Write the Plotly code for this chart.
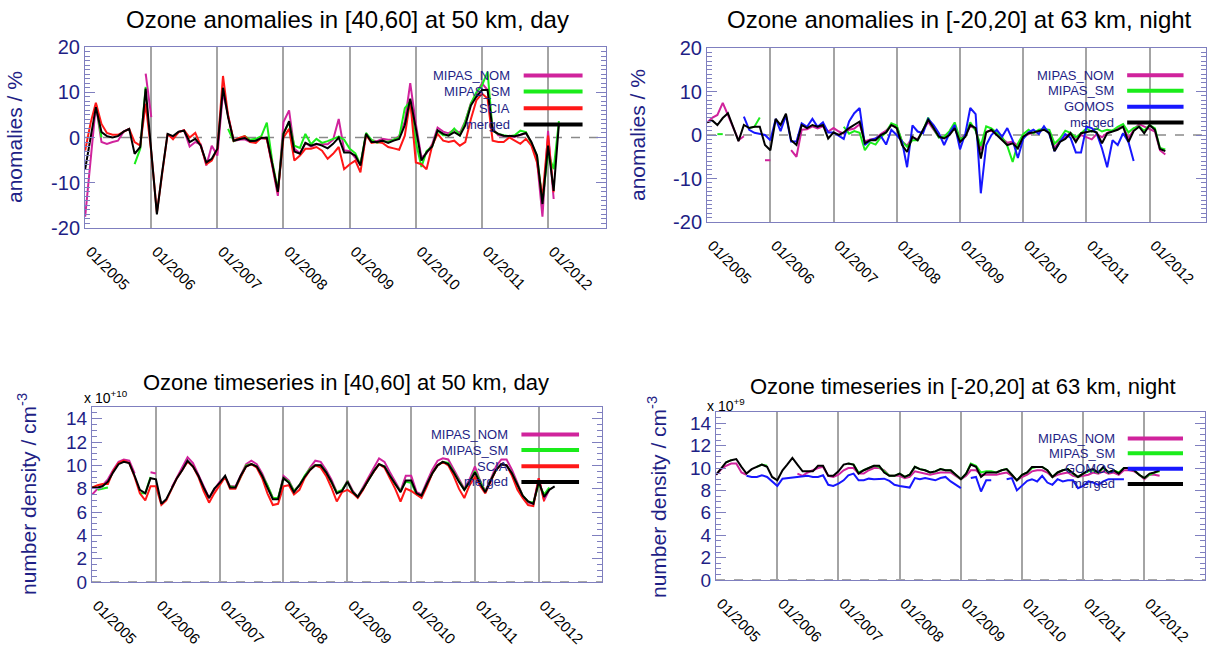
import pandas as pd
import plotly.graph_objects as go

N = None

# Monthly time axis, Jan 2005 - Apr 2012
months = pd.date_range("2005-01-01", periods=88, freq="MS")

# ---- Ozone anomalies [%], 40-60 N, 50 km, day ----
anom_day_nom = [
    -17.5, -5.2, 7.1, -1.0, -1.4, -1.0, -0.7, 1.3, 1.9, N, N, 14.1,
    4.5, N, N, 0.6, 0.0, 1.2, 1.6, -2.0, -1.0, -1.5, -6.2, -1.8,
    -4.0, 10.0, 4.5, -0.8, -0.5, -0.4, -1.0, -0.8, -0.2, -0.3, -6.5, -12.9,
    3.4, 6.0, -2.5, -3.5, -1.2, -2.0, -1.5, -1.5, -1.5, -0.5, 4.1, -2.8,
    -3.0, -4.5, -6.0, 0.5, -0.6, -0.8, -0.3, -0.5, -0.5, 0.3, 3.5, 12.0,
    3.0, -4.5, -3.5, -1.5, 2.2, 1.3, 0.9, 1.8, 1.0, 3.6, 7.6, 9.5,
    12.0, 10.5, 2.0, 0.5, 0.3, 0.2, 0.1, 0.5, 1.0, -1.2, -5.0, -17.5,
    1.5, -13.6, N, N,
]
anom_day_sm = [
    N, N, 7.5, 0.0, N, N, N, N, N, -5.9, -2.5, 11.2,
    N, N, N, N, N, N, N, N, N, N, N, N,
    N, N, 1.9, -0.8, -0.2, 0.3, -0.5, -0.3, 0.3, 3.3, -5.5, -11.5,
    1.0, 3.3, -1.8, -2.3, 0.8, -1.5, -0.3, -1.2, -0.8, -0.3, 0.2, -0.5,
    -2.5, -3.5, -6.0, 1.0, -0.5, -1.2, -0.8, -1.0, -0.5, 0.0, 6.5, 8.0,
    -1.0, -6.5, -3.0, -2.0, 1.5, 0.5, 0.5, 2.0, 0.5, 3.5, 7.5, 10.0,
    11.5, 14.5, 1.5, 0.8, 0.5, 0.3, 0.5, 1.5, 1.2, -1.2, -4.0, -14.0,
    -3.5, -7.0, 3.6, N,
]
anom_day_scia = [
    -2.9, 3.4, 7.7, 3.0, 1.0, 0.6, 0.6, 1.3, 1.9, -1.0, -1.8, 7.5,
    -3.3, -16.6, -8.0, 0.8, -0.4, 1.2, 1.6, 0.0, 1.0, -1.8, -5.9, -5.1,
    -2.5, 13.6, 4.9, -0.7, -0.1, 0.3, -1.0, -1.2, 0.0, -0.3, -6.2, -12.1,
    0.0, 1.9, -5.1, -4.0, -2.5, -2.5, -2.1, -2.9, -4.7, -3.6, -2.1, -7.0,
    -5.9, -5.1, -7.7, 0.6, -1.2, -1.0, -1.2, -2.1, -2.4, -2.7, 0.4, 8.2,
    -5.5, -5.9, -7.0, -1.8, 0.8, -0.7, -1.0, -0.7, -1.8, -1.0, 4.1, 8.2,
    9.7, 8.6, -0.7, -1.0, -1.0, 0.0, -0.7, -1.4, -0.3, -1.8, -5.5, -13.3,
    0.4, -12.1, N, N,
]
anom_day_merged = [
    -7.0, 0.0, 6.7, 1.2, 0.3, 0.0, 0.3, 1.3, 1.9, -3.6, -2.1, 10.8,
    -3.0, -17.0, -8.0, 0.8, 0.3, 1.3, 1.5, -1.0, -0.3, -1.8, -5.5, -4.7,
    -2.5, 11.0, 4.5, -0.7, -0.4, -0.1, -0.8, -0.7, -0.1, 0.0, -6.0, -12.0,
    0.8, 3.6, -3.1, -3.6, -1.2, -1.8, -1.4, -1.8, -2.4, -1.4, 0.0, -3.3,
    -3.3, -4.0, -6.2, 0.8, -1.0, -1.0, -0.7, -1.2, -0.7, -0.3, 2.7, 8.6,
    2.0, -5.1, -3.3, -2.0, 1.6, 0.8, 0.4, 1.2, 0.4, 2.7, 7.1, 9.0,
    10.5, 10.5, 1.5, 0.8, 0.4, 0.4, 0.3, 0.6, 1.0, -1.0, -4.0, -14.7,
    -1.8, -11.8, 3.0, N,
]

# ---- Ozone anomalies [%], 20 S - 20 N, 63 km, night ----
anom_night_nom = [
    2.9, 4.0, 4.6, 7.4, 4.6, 1.5, -1.2, -0.3, N, N, N, -5.8,
    -5.8, N, N, N, -3.5, -5.0, 1.2, 1.3, 2.0, 1.5, 2.0, 0.8,
    1.6, 0.8, 0.3, 1.2, 1.5, 2.5, -1.5, -1.0, -0.8, 0.2, 1.0, 2.3,
    2.0, -1.5, -2.5, -0.5, -1.0, 1.0, 3.0, 1.2, -0.5, -0.5, 0.5, 1.5,
    -0.8, 0.0, 2.0, 1.5, -3.5, 0.8, 1.0, 0.2, -0.8, -1.8, -1.5, -2.5,
    -0.5, 0.2, 0.5, 0.8, 1.5, 0.5, -3.0, -1.2, -0.6, 0.5, -1.2, 0.0,
    -0.5, -1.0, 0.2, -0.5, 0.5, 1.0, 1.5, 2.0, -0.8, 1.2, 2.5, 2.0,
    1.5, 0.8, -3.5, -4.5,
]
anom_night_sm = [
    N, N, 0.2, 0.2, N, N, N, N, 1.6, 1.9, 4.0, N,
    N, N, N, N, N, N, N, N, N, N, N, N,
    N, N, 1.9, 0.3, 0.9, 0.5, -3.5, -1.7, -2.2, -0.5, 0.6, 2.7,
    2.2, -1.5, -2.7, -1.2, -1.2, 1.0, 4.0, 1.5, -0.6, -0.4, 0.9, 2.9,
    -1.0, -0.2, 2.9, 1.0, -2.5, 2.0, 1.5, 0.5, -0.5, -2.5, -6.2, -2.0,
    0.2, 1.2, 0.4, 1.2, 1.4, 1.2, -2.0, -0.8, 1.0, 0.5, -0.5, 0.4,
    1.5, 0.8, 1.5, 0.8, 1.2, 1.0, 1.9, 2.5, 0.6, 1.6, 2.0, 1.0,
    2.3, 1.5, -3.0, -3.3,
]
anom_night_gomos = [
    N, N, N, N, N, N, N, 4.2, 1.2, 0.5, 0.3, 0.0,
    -1.2, 3.7, 0.9, 4.5, -1.5, -1.5, 2.7, 1.9, 3.7, 1.9, 2.9, 0.6,
    0.6, -0.2, -0.9, 3.1, 5.0, 6.2, -2.3, -1.2, -0.8, -0.2, -2.2, 1.2,
    0.0, -1.5, -7.4, 2.2, 0.8, 0.4, 3.7, 2.3, 0.4, -2.3, 0.4, 2.3,
    -3.3, 0.4, 6.2, 4.8, -13.4, -2.3, 0.0, 1.2, -0.4, 1.6, -1.2, -5.3,
    -0.9, 0.6, 1.2, 0.2, 2.0, 0.2, -3.7, -1.6, 0.2, -0.6, -4.0, -4.0,
    1.9, 1.6, 0.4, -3.1, -7.4, -1.2, -2.3, 0.4, -1.6, -6.0, N, N,
    N, N, N, N,
]
anom_night_merged = [
    2.9, 3.3, 2.3, 3.9, 5.0, 1.6, -1.4, 2.3, 1.6, 1.9, 1.9, -2.3,
    -3.5, 3.7, 2.3, 4.9, -1.2, -2.3, 2.3, 1.6, 2.3, 1.9, 2.3, -0.8,
    0.6, 0.0, 0.6, 1.6, 2.3, 3.1, -1.9, -1.2, -1.2, 0.0, 0.6, 2.3,
    1.6, -2.3, -3.9, -0.4, -1.2, 1.2, 3.5, 1.6, -0.4, -0.8, 0.0, 1.6,
    -1.6, -0.4, 2.3, 1.6, -5.4, 0.6, 1.2, 0.0, -1.2, -2.3, -1.9, -3.1,
    -0.4, 0.4, 0.6, 0.9, 1.2, 0.4, -3.7, -1.6, -0.9, 0.4, -1.6, 0.4,
    0.6, 0.9, 0.6, -1.9, 0.4, 0.8, 1.2, 1.9, -1.6, 0.9, 1.9, 0.4,
    2.3, 1.2, -3.2, -3.7,
]

# ---- Number density [1e10 cm^-3], 40-60 N, 50 km, day ----
ts_day_nom = [
    7.5, 8.0, 8.3, 8.8, 9.6, 10.3, 10.5, 10.4, 9.3, N, N, 9.4,
    9.3, N, N, 8.1, 9.0, 9.8, 10.7, 10.2, 9.2, 8.2, 7.2, 7.9,
    8.6, 9.0, 8.2, 8.2, 9.2, 10.1, 10.4, 10.1, 9.3, 8.2, 7.2, 7.1,
    9.1, 8.7, 7.8, 8.3, 9.1, 9.8, 10.4, 10.3, 9.6, 8.8, 7.7, 7.8,
    8.7, 7.8, 7.3, 8.1, 9.0, 9.8, 10.6, 10.3, 9.4, 8.6, 7.8, 9.1,
    9.1, 7.7, 7.5, 8.6, 9.6, 10.4, 10.6, 10.5, 9.7, 8.8, 8.0, 8.8,
    9.9, 8.6, 7.8, 8.8, 9.9, 10.5, 10.5, 9.6, 8.5, 7.4, 6.8, 6.7,
    8.9, 7.0, 7.9, N,
]
ts_day_sm = [
    N, 7.9, 8.0, 8.1, N, N, N, N, N, 7.6, 7.6, 9.0,
    N, N, N, N, N, N, N, N, N, N, N, N,
    N, N, 8.2, 8.1, 9.0, 10.0, 10.1, 9.9, 9.1, 8.3, 7.2, 7.2,
    8.9, 8.6, 7.8, 8.3, 9.1, 9.7, 10.0, 10.0, 9.4, 8.6, 7.7, 7.9,
    8.6, 7.7, 7.3, 8.0, 8.8, 9.5, 10.1, 9.9, 9.1, 8.4, 7.8, 8.6,
    8.5, 7.5, 7.4, 8.4, 9.3, 10.0, 10.3, 10.2, 9.4, 8.6, 7.9, 8.6,
    9.5, 8.6, 7.7, 8.7, 9.6, 10.1, 10.0, 9.3, 8.3, 7.4, 6.9, 6.8,
    8.4, 7.5, 8.1, N,
]
ts_day_scia = [
    8.1, 8.3, 8.4, 8.4, 9.5, 10.2, 10.4, 10.2, 9.0, 7.6, 7.0, 8.2,
    8.2, 6.6, 7.0, 8.0, 8.9, 9.6, 10.3, 9.9, 9.0, 7.8, 6.8, 7.6,
    8.3, 9.0, 8.0, 8.0, 9.0, 9.9, 10.1, 9.8, 8.9, 7.6, 6.6, 6.7,
    8.2, 8.3, 7.5, 7.9, 8.9, 9.6, 10.0, 9.8, 9.1, 8.1, 6.9, 7.7,
    7.9, 7.6, 7.2, 7.9, 8.8, 9.5, 10.1, 9.8, 8.9, 8.0, 6.9, 8.0,
    7.8, 7.5, 7.2, 8.2, 9.3, 10.0, 10.3, 10.0, 9.1, 8.0, 7.2, 8.3,
    9.0, 8.2, 7.6, 8.6, 9.6, 10.1, 10.0, 9.1, 7.9, 7.2, 6.6, 6.5,
    8.9, 6.9, N, N,
]
ts_day_merged = [
    8.1, 8.1, 8.2, 8.6, 9.4, 10.1, 10.3, 10.2, 9.1, 7.9, 7.6, 8.9,
    8.8, 6.7, 7.1, 8.0, 8.9, 9.6, 10.4, 9.9, 9.1, 8.1, 7.2, 8.0,
    8.5, 9.1, 8.1, 8.1, 9.1, 9.9, 10.1, 9.9, 9.1, 8.1, 7.1, 7.1,
    8.9, 8.5, 7.7, 8.3, 9.0, 9.6, 10.0, 10.0, 9.4, 8.6, 7.6, 7.8,
    8.6, 7.7, 7.3, 8.0, 8.8, 9.5, 10.1, 9.9, 9.1, 8.4, 7.7, 8.7,
    8.7, 7.6, 7.4, 8.4, 9.3, 10.0, 10.3, 10.1, 9.4, 8.6, 7.9, 8.6,
    9.4, 8.4, 7.7, 8.7, 9.6, 10.1, 10.0, 9.3, 8.3, 7.4, 6.9, 6.7,
    8.6, 7.3, 7.9, 8.2,
]

# ---- Number density [1e9 cm^-3], 20 S - 20 N, 63 km, night ----
ts_night_nom = [
    9.4, 9.9, 10.2, 10.4, 10.4, 9.6, 9.4, N, N, N, N, N,
    N, N, N, N, 9.5, 9.3, 9.6, 9.8, 10.0, 10.1, 9.3, 9.2,
    9.4, 9.8, 10.0, 10.0, 9.5, 9.5, 9.8, 10.0, 10.0, 9.8, 9.3, 9.3,
    9.3, 9.1, 9.2, 9.7, 9.6, 9.5, 9.4, 9.5, 9.6, 9.6, 9.6, 9.3,
    9.0, 9.3, 9.8, 9.8, 9.4, 9.4, 9.4, 9.4, 9.5, 9.6, 9.3, 8.9,
    9.2, 9.4, 9.7, 9.8, 9.8, 9.6, 9.2, 9.4, 9.5, 9.6, 9.3, 9.2,
    9.3, 9.4, 9.6, 9.5, 9.7, 9.5, 9.6, 9.4, 9.8, 9.8, 9.7, 9.4,
    9.0, 9.4, 9.4, 9.3,
]
ts_night_sm = [
    N, N, 10.5, 10.7, N, N, N, N, 10.1, 10.3, 10.2, N,
    N, N, N, N, N, N, N, N, N, N, N, N,
    N, N, 10.4, 10.3, 9.6, 9.8, 10.0, 10.2, 10.1, 9.7, 9.3, 9.3,
    9.5, 9.2, 9.4, 10.1, 9.9, 9.8, 9.6, 9.7, 9.9, 9.8, 9.8, 9.4,
    9.0, 9.5, 10.4, 10.2, 9.6, 9.7, 9.7, 9.6, 9.8, 9.9, 9.4, 8.9,
    9.4, 9.6, 10.0, 10.1, 10.1, 9.8, 9.2, 9.6, 9.8, 9.9, 9.5, 9.2,
    9.5, 9.7, 9.8, 9.6, 10.0, 9.6, 9.8, 9.6, 10.0, 10.0, 9.8, 9.4,
    9.1, 9.4, 9.6, 9.7,
]
ts_night_gomos = [
    N, N, N, N, N, N, 9.3, 9.2, 9.2, 9.35, 9.2, 8.8,
    8.4, 9.05, 9.1, 9.1, 9.2, 9.2, 9.3, 9.2, 9.2, 9.35, 8.5, 8.4,
    8.6, 8.9, 9.35, 9.5, 8.9, 8.9, 9.05, 9.0, 9.05, 9.05, 8.85, 8.5,
    8.4, 8.3, 8.25, 9.1, 9.0, 9.1, 9.0, 8.9, 9.1, 9.2, 8.8, 8.5,
    8.2, N, 9.1, 9.2, 7.9, 8.9, 8.9, N, N, 9.0, 9.1, 8.0,
    8.4, 8.85, 9.0, 8.8, 9.3, 8.7, 8.5, 9.0, 8.8, 8.9, 8.9, 8.2,
    8.4, 8.8, 8.7, 8.5, 8.8, 9.0, 9.0, 9.0, 9.0, N, N, N,
    N, N, N, N,
]
ts_night_merged = [
    9.4, 10.0, 10.5, 10.7, 10.8, 10.1, 9.5, 9.9, 10.1, 10.3, 10.1, 9.2,
    8.9, 9.8, 10.3, 10.9, 10.3, 9.7, 9.7, 9.7, 10.2, 10.2, 9.3, 9.3,
    9.7, 10.3, 10.4, 10.3, 9.5, 9.8, 10.0, 10.2, 10.2, 9.6, 9.3, 9.3,
    9.5, 9.2, 9.4, 10.1, 9.9, 9.8, 9.6, 9.7, 9.9, 9.8, 9.8, 9.4,
    9.0, 9.5, 10.3, 10.1, 9.2, 9.6, 9.6, 9.6, 9.8, 9.9, 9.4, 8.9,
    9.4, 9.6, 10.1, 10.1, 10.1, 9.8, 9.2, 9.6, 9.8, 9.9, 9.5, 9.2,
    9.5, 9.8, 9.9, 9.6, 10.1, 9.6, 9.8, 9.5, 10.0, 10.0, 9.8, 9.4,
    9.1, 9.5, 9.6, 9.8,
]

# ---------------------------------------------------------------------------
W, H = 1209, 646
FONT = "Liberation Sans, Arial, Helvetica, sans-serif"
NAVY = "#1f1f86"
FRAME = "#7f7fbf"
GRID = "#a4a4a4"
COLORS = {
    "MIPAS_NOM": "#d0239c",
    "MIPAS_SM": "#1aec1a",
    "SCIA": "#ff1717",
    "GOMOS": "#1717ff",
    "merged": "#000000",
}


def px(x):
    return x / W


def py(y):
    return 1 - y / H


panels = [
    dict(
        title="Ozone anomalies in [40,60] at 50 km, day", title_size=24,
        series=[("MIPAS_NOM", anom_day_nom), ("MIPAS_SM", anom_day_sm),
                ("SCIA", anom_day_scia), ("merged", anom_day_merged)],
        box=(85, 606, 47, 228), xend="2012-11-16",
        yrange=[-20, 20], major=[-20, -10, 0, 10, 20], minor=1, tfs=20,
        ytitle="anomalies / %", ytitle_xy=(14, 137), title_xy=(347, 19),
        scale=None,
    ),
    dict(
        title="Ozone anomalies in [-20,20] at 63 km, night", title_size=24,
        series=[("MIPAS_NOM", anom_night_nom), ("MIPAS_SM", anom_night_sm),
                ("GOMOS", anom_night_gomos), ("merged", anom_night_merged)],
        box=(707, 1206, 48, 222), xend="2012-11-22",
        yrange=[-20, 20], major=[-20, -10, 0, 10, 20], minor=1, tfs=20,
        ytitle="anomalies / %", ytitle_xy=(638, 135), title_xy=(959, 19),
        scale=None,
    ),
    dict(
        title="Ozone timeseries in [40,60] at 50 km, day", title_size=22,
        series=[("MIPAS_NOM", ts_day_nom), ("MIPAS_SM", ts_day_sm),
                ("SCIA", ts_day_scia), ("merged", ts_day_merged)],
        box=(92, 602, 407, 582), xend="2012-12-28",
        yrange=[0, 15], major=[0, 2, 4, 6, 8, 10, 12, 14], minor=0.5, tfs=19,
        ytitle="number density / cm<sup>-3</sup>", ytitle_xy=(27, 494),
        title_xy=(346, 382),
        scale=("x 10<sup>+10</sup>", 82, 397),
    ),
    dict(
        title="Ozone timeseries in [-20,20] at 63 km, night", title_size=22,
        series=[("MIPAS_NOM", ts_night_nom), ("MIPAS_SM", ts_night_sm),
                ("GOMOS", ts_night_gomos), ("merged", ts_night_merged)],
        box=(716, 1205, 412, 580), xend="2012-12-28",
        yrange=[0, 15], major=[0, 2, 4, 6, 8, 10, 12, 14], minor=0.5, tfs=19,
        ytitle="number density / cm<sup>-3</sup>", ytitle_xy=(657, 497),
        title_xy=(963, 386),
        scale=("x 10<sup>+9</sup>", 705, 405),
    ),
]

LEG_ROWS = [0.843, 0.754, 0.662, 0.572]
LEG_TEXT_X = 0.82
LEG_LINE_X = (0.842, 0.955)

fig = go.Figure()
annotations = []
shapes = []
layout = {}

for k, p in enumerate(panels):
    sfx = "" if k == 0 else str(k + 1)
    xref, yref = "x" + sfx, "y" + sfx
    x0, x1, y0, y1 = p["box"]

    for name, vals in p["series"]:
        fig.add_trace(go.Scatter(
            x=months, y=vals, mode="lines", name=name,
            line=dict(color=COLORS[name], width=2),
            connectgaps=False, xaxis=xref, yaxis=yref,
        ))

    layout["xaxis" + sfx] = dict(
        domain=[px(x0), px(x1)], anchor=yref, type="date",
        range=["2004-12-31", p["xend"]],
        tick0="2005-01-01", dtick="M12", tickformat="%m/%Y",
        tickangle=45, ticks="", tickfont=dict(size=15, color="black"),
        ticklabelstandoff=8, ticklabelshift=5,
        showgrid=True, gridcolor=GRID, gridwidth=1.5,
        showline=True, linecolor=FRAME, linewidth=1, mirror=True,
        zeroline=False, automargin=False,
    )
    layout["yaxis" + sfx] = dict(
        domain=[py(y1), py(y0)], anchor=xref, range=p["yrange"],
        tickmode="array", tickvals=p["major"],
        ticktext=[str(v) for v in p["major"]],
        ticks="inside", ticklen=10, tickwidth=1, tickcolor=FRAME,
        minor=dict(dtick=p["minor"], ticks="inside", ticklen=5,
                   tickcolor=FRAME, showgrid=False),
        tickfont=dict(size=p["tfs"], color=NAVY),
        showgrid=False, zeroline=False,
        showline=True, linecolor=FRAME, linewidth=1, mirror="ticks",
        automargin=False,
    )

    # dashed zero reference line
    shapes.append(dict(
        type="line", xref=xref + " domain", yref=yref,
        x0=0, x1=1, y0=0, y1=0, layer="below",
        line=dict(color="#8a8a8a", width=1.5, dash="dash"),
    ))

    # in-plot legend: label on the left, line sample on the right
    for j, (name, _) in enumerate(p["series"]):
        ly = LEG_ROWS[j]
        annotations.append(dict(
            text=name, xref=xref + " domain", yref=yref + " domain",
            x=LEG_TEXT_X, y=ly, xanchor="right", yanchor="middle",
            showarrow=False, font=dict(family=FONT, size=13, color=NAVY),
        ))
        shapes.append(dict(
            type="line", xref=xref + " domain", yref=yref + " domain",
            x0=LEG_LINE_X[0], x1=LEG_LINE_X[1], y0=ly, y1=ly,
            layer="above", line=dict(color=COLORS[name], width=4),
        ))

    tx, ty = p["title_xy"]
    annotations.append(dict(
        text=p["title"], xref="paper", yref="paper", x=px(tx), y=py(ty),
        xanchor="center", yanchor="middle", showarrow=False,
        font=dict(family=FONT, size=p["title_size"], color="black"),
    ))
    ax, ay = p["ytitle_xy"]
    annotations.append(dict(
        text=p["ytitle"], xref="paper", yref="paper", x=px(ax), y=py(ay),
        xanchor="center", yanchor="middle", textangle=-90, showarrow=False,
        font=dict(family=FONT, size=21, color=NAVY),
    ))
    if p["scale"]:
        stext, sx, sy = p["scale"]
        annotations.append(dict(
            text=stext, xref="paper", yref="paper", x=px(sx), y=py(sy),
            xanchor="left", yanchor="middle", showarrow=False,
            font=dict(family=FONT, size=14, color="black"),
        ))

fig.update_layout(
    width=W, height=H, margin=dict(l=0, r=0, t=0, b=0),
    paper_bgcolor="white", plot_bgcolor="white",
    showlegend=False, font=dict(family=FONT),
    annotations=annotations, shapes=shapes, **layout,
)

fig.write_html("out.html")
